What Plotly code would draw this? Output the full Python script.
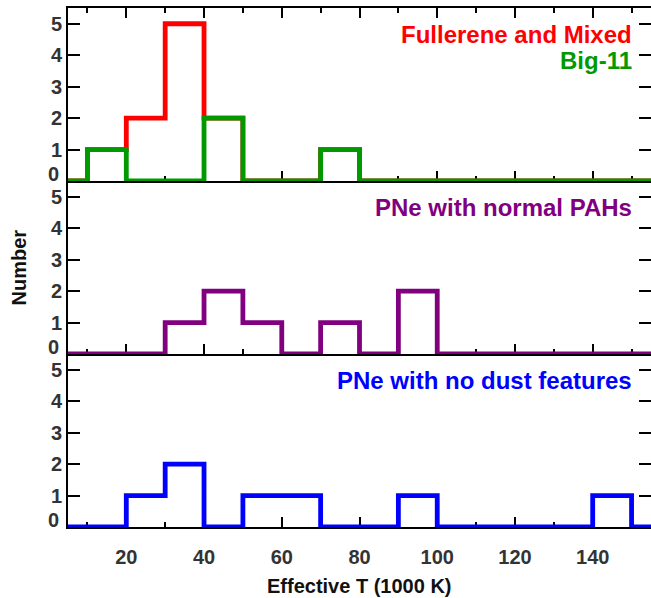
import plotly.graph_objects as go
from plotly.subplots import make_subplots

# ---- data ----
bin_left = [0, 10, 20, 30, 40, 50, 60, 70, 80, 90, 100, 110, 120, 130, 140, 150]
bin_width = 10
fullerene_mixed = [0, 1, 2, 5, 2, 0, 0, 1, 0, 0, 0, 0, 0, 0, 0, 0]
big11 = [0, 1, 0, 0, 2, 0, 0, 1, 0, 0, 0, 0, 0, 0, 0, 0]
normal_pahs = [0, 0, 0, 1, 2, 1, 0, 1, 0, 2, 0, 0, 0, 0, 0, 0]
no_dust = [0, 0, 1, 2, 0, 1, 1, 0, 0, 1, 0, 0, 0, 0, 1, 0]
x_ticks = [20, 40, 60, 80, 100, 120, 140]
y_ticks = [0, 1, 2, 3, 4, 5]

series = [
    (1, "Fullerene and Mixed", fullerene_mixed, "#ff0000"),
    (1, "Big-11", big11, "#009a00"),
    (2, "PNe with normal PAHs", normal_pahs, "#800080"),
    (3, "PNe with no dust features", no_dust, "#0000ff"),
]
label_y = {"Fullerene and Mixed": 4.67, "Big-11": 3.82,
           "PNe with normal PAHs": 4.67, "PNe with no dust features": 4.67}

FONT = "Liberation Sans"

fig = make_subplots(rows=3, cols=1, shared_xaxes=True, vertical_spacing=0)

edges = bin_left + [bin_left[-1] + bin_width]
for row, name, counts, color in series:
    fig.add_trace(go.Scatter(
        x=edges, y=counts + [counts[-1]], mode="lines",
        line=dict(color=color, width=4.8, shape="hv"),
        showlegend=False, hoverinfo="skip"), row=row, col=1)

for row in (1, 2, 3):
    fig.update_xaxes(
        range=[5, 155], tickvals=x_ticks, ticks="inside", ticklen=10,
        tickwidth=1.5, tickcolor="black", showline=True, linecolor="black",
        linewidth=2, showgrid=False, zeroline=False, layer="below traces",
        automargin=False,
        minor=dict(dtick=10, tick0=0, ticks="inside", ticklen=5,
                   tickwidth=1.5, tickcolor="black", showgrid=False),
        mirror="ticks" if row == 1 else False,
        showticklabels=(row == 3),
        tickfont=dict(family=FONT, size=20, color="#333333", weight="bold"),
        ticklabelstandoff=11,
        row=row, col=1)
    fig.update_yaxes(
        range=[0, 5.5], tickvals=y_ticks,
        ticktext=["" if v == 0 else str(v) for v in y_ticks],
        ticks="inside", ticklen=12, tickwidth=1.5, tickcolor="black",
        showline=True, linecolor="black", linewidth=2, mirror="ticks",
        showgrid=False, zeroline=False, layer="below traces",
        automargin=False,
        tickfont=dict(family=FONT, size=20, color="#333333", weight="bold"),
        ticklabelstandoff=0,
        row=row, col=1)

annotations = []
yrefs = {1: "y", 2: "y2", 3: "y3"}
for row in (1, 2, 3):
    annotations.append(dict(
        text=str(y_ticks[0]), xref="paper", yref=yrefs[row], x=0, y=y_ticks[0],
        xanchor="right", yanchor="middle", xshift=-7, yshift=7, showarrow=False,
        font=dict(family=FONT, size=20, color="#333333", weight="bold")))
for row, name, counts, color in series:
    annotations.append(dict(
        text=name, xref="paper", yref=yrefs[row], x=1, y=label_y[name],
        xanchor="right", yanchor="middle", xshift=-17, showarrow=False,
        font=dict(family=FONT, size=24, color=color, weight="bold")))
annotations.append(dict(
    text="Effective T (1000 K)", xref="paper", yref="paper", x=0.5, y=0,
    yshift=-59, xanchor="center", yanchor="middle", showarrow=False,
    font=dict(family=FONT, size=20, color="#111111", weight="bold")))
annotations.append(dict(
    text="Number", xref="paper", yref="paper", x=0, y=0.5, xshift=-50,
    textangle=-90, xanchor="center", yanchor="middle", showarrow=False,
    font=dict(family=FONT, size=20, color="#111111", weight="bold")))

fig.update_layout(
    width=651, height=598, margin=dict(l=68, r=0, t=8, b=71, autoexpand=False),
    plot_bgcolor="white", paper_bgcolor="white", annotations=annotations,
    showlegend=False)

fig.write_html("out.html", config={"displayModeBar": False},
               post_script="document.body.style.margin='0';"
                           "document.body.style.overflow='hidden';")
